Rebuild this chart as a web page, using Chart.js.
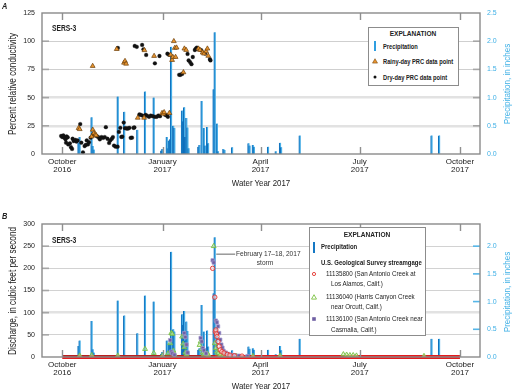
<!DOCTYPE html>
<html><head><meta charset="utf-8">
<script src="https://cdn.jsdelivr.net/npm/chart.js@4"></script>
<style>
html,body{margin:0;padding:0;background:#fff}
body{width:513px;height:392px;position:relative;overflow:hidden}
canvas{position:absolute;left:0}
.t{position:absolute;white-space:nowrap;font-family:'Liberation Sans',Arial,sans-serif;color:#222;line-height:1}
.c{transform:translate(-50%,-50%) scaleX(0.82)}
.l{transform:translateY(-50%) scaleX(0.82);transform-origin:0 50%}
.v{transform:translate(-50%,-50%) rotate(-90deg) scaleX(0.82)}
.b{font-weight:bold}
.box{position:absolute;border:1px solid #8c8c8c;background:#fff;box-sizing:border-box}
.mk{position:absolute;transform:translate(-50%,-50%)}
</style></head>
<body>
<canvas id="ca" width="513" height="192" style="top:0"></canvas>
<canvas id="cb" width="513" height="200" style="top:192px"></canvas>

<div class="t l b" style="left:2px;top:6px;font-size:9px;font-style:italic">A</div>
<div class="t l b" style="left:2px;top:215.7px;font-size:9px;font-style:italic">B</div>

<div class="t v" style="left:12.7px;top:83.7px;font-size:10px">Percent relative conductivity</div>
<div class="t v" style="left:506.5px;top:84px;font-size:9.8px;color:#3fb0e6">Precipitation, in inches</div>
<div class="t c" style="left:261px;top:182.7px;font-size:9.6px">Water Year 2017</div>
<div class="t l b" style="left:52.3px;top:29px;font-size:8.2px">SERS-3</div>

<div class="t v" style="left:12.7px;top:290.5px;font-size:10px">Discharge, in cubic feet per second</div>
<div class="t v" style="left:506.5px;top:291.7px;font-size:9.8px;color:#3fb0e6">Precipitation, in inches</div>
<div class="t c" style="left:261px;top:386px;font-size:9.6px">Water Year 2017</div>
<div class="t l b" style="left:52.3px;top:240.7px;font-size:8.2px">SERS-3</div>

<div class="t l" style="left:235.5px;top:254.3px;font-size:8px;color:#333">February 17–18, 2017</div>
<div class="t c" style="left:265px;top:262.7px;font-size:8px;color:#333">storm</div>

<!-- Legend A -->
<div class="box" style="left:368px;top:27px;width:91px;height:59px"></div>
<div class="t c b" style="left:413px;top:33.5px;font-size:8px">EXPLANATION</div>
<div style="position:absolute;left:374px;top:41px;width:2px;height:10px;background:#2f9ee0"></div>
<div class="t l b" style="left:383px;top:46px;font-size:7px">Precipitation</div>
<svg class="mk" style="left:374.7px;top:61.3px" width="7" height="7"><polygon points="3.5,1.2 6,5.6 1,5.6" fill="#e8942e" stroke="#7a4a10" stroke-width="0.6"/></svg>
<div class="t l b" style="left:383px;top:61.3px;font-size:7px">Rainy-day PRC data point</div>
<svg class="mk" style="left:374.7px;top:77px" width="5" height="5"><circle cx="2.5" cy="2.5" r="1.5" fill="#111"/></svg>
<div class="t l b" style="left:383px;top:77px;font-size:7px">Dry-day PRC data point</div>

<!-- Legend B -->
<div class="box" style="left:308.7px;top:226.7px;width:117.5px;height:109.5px"></div>
<div class="t c b" style="left:367.3px;top:235px;font-size:8px">EXPLANATION</div>
<div style="position:absolute;left:313px;top:241.5px;width:2px;height:11px;background:#1578c4"></div>
<div class="t l b" style="left:321px;top:247.3px;font-size:7.3px">Precipitation</div>
<div class="t l b" style="left:321px;top:262.7px;font-size:7.3px">U.S. Geological Survey streamgage</div>
<svg class="mk" style="left:314.3px;top:274px" width="6" height="6"><circle cx="3" cy="3" r="1.6" fill="none" stroke="#e3342f" stroke-width="0.9"/></svg>
<div class="t l" style="left:326px;top:274px;font-size:7.6px">11135800 (San Antonio Creek at</div>
<div class="t l" style="left:330.7px;top:284px;font-size:7.6px">Los Alamos, Calif.)</div>
<svg class="mk" style="left:314.3px;top:296.7px" width="7" height="7"><polygon points="3.5,1.2 6,5.6 1,5.6" fill="none" stroke="#7cc242" stroke-width="0.9"/></svg>
<div class="t l" style="left:326px;top:296.7px;font-size:7.6px">11136040 (Harris Canyon Creek</div>
<div class="t l" style="left:330.7px;top:306.7px;font-size:7.6px">near Orcutt, Calif.)</div>
<svg class="mk" style="left:314.3px;top:319.3px" width="6" height="6"><rect x="1.2" y="1.2" width="3.6" height="3.6" fill="#6f5fa3"/></svg>
<div class="t l" style="left:326px;top:319.3px;font-size:7.6px">11136100 (San Antonio Creek near</div>
<div class="t l" style="left:330.7px;top:330px;font-size:7.6px">Casmalia, Calif.)</div>

<script>
// ---------- DATA (x = day of water year; 0 = October 1, 2016) ----------
const monthDays = [0, 92, 182, 273, 365];
const monthLabels = [["October","2016"],["January","2017"],["April","2017"],["July","2017"],["October","2017"]];

const precipDays = [15,16,27,28,29,51,57,69,76,84,91,92,96,97,98,99,100,102,103,110,111,112,113,114,115,116,125,126,128,130,131,133,134,139,140,142,143,148,149,156,171,172,175,176,189,196,200,201,218,339,346];
const precipIn   = [0.20,0.30,0.65,0.14,0.08,1.02,0.75,0.43,1.11,1.00,0.06,0.09,0.30,0.10,0.24,0.26,1.90,0.50,0.46,0.77,0.58,0.83,0.30,0.64,0.47,0.10,0.13,0.16,0.94,0.46,0.15,0.48,0.19,1.15,2.16,0.54,0.05,0.09,0.07,0.12,0.19,0.15,0.16,0.13,0.13,0.05,0.20,0.12,0.33,0.33,0.33];

const dryDays = [-1,0,1,2,3,4,5,3.5,5.5,7,8,9,9.5,10.5,12,13,14,16.5,17.5,19,20.5,21.5,22.5,23.5,24.5,26,28.5,29.5,31.5,33,34.5,36,37.5,39,40,41.5,43,44,45.5,46.5,47.5,49,50.8,52,53.3,54.2,55.1,56.4,57.6,59.1,60.4,61.6,62.8,64,65.3,66.2,
  51,66.5,68.4,73.3,74.5,77,85,89.2,96.5,98,107.3,108.5,110,115,116,117.3,118.6,119.8,121.7,122.6,123.5,124.5,127.5,131,135.5,136,
  70.8,72,73.6,76.6,78,79.7,81.2,83,84.9,86.7,88.2,89.7,94.4,95.9,97];
const dryPRC  = [16,15,16.5,14.5,13,15.5,14.8,10,8.5,9.5,6,4.5,13.5,11.5,12.5,11,12,26.5,10,1.5,7,8,12,8.5,10.5,14.5,17.5,17,16,15,13,15,14.3,15,23.8,13.5,9.8,12,13.5,15,7.5,6.5,6.5,19.6,23.2,15.1,15.4,27.9,22.9,22.6,22.6,23.2,14.3,14.5,23.2,23.5,
  94,95.8,95,96.7,92.8,87.8,80.4,86.9,88.9,88,70.2,70.2,71,88.7,83,81.5,79.6,86,92.2,93.4,94.3,93.5,92,89,84,83,
  35,34.7,34.1,34.7,33.8,33,34.1,33.5,33,33,34.1,33.5,34.7,34.1,33];

const rainyDays = [15,16,27.9,27,28,29,30.5,31,50,56.7,57.6,58.6,69.3,75.1,75.4,84.3,91.6,92.8,93.5,98.3,99.5,100.8,101.5,102.4,103.3,104.9,104,111.2,112.1,113.7,125,126.5,128.9,130.1,132,133.2,134];
const rainyPRC  = [23,22,78,15.5,21.5,18.5,17.5,16.5,93,80.9,82.4,80,32.1,32.1,92,86.9,36.3,35.7,37,36.3,88,83.3,86,100,94,94.3,86,72.4,93.4,92.2,93.4,92.2,89.9,89,91,93.4,87];

const losAlamosDays = [138,140,140.5,141,141.5,142,143,144,145,146.5,148.5,151.5,154,158,165];
const losAlamosCfs  = [200,135,57,61,52,46,35,24,16,12,9,6,4,3,2];
const losAlamosZeroDays = [0,365];
const losAlamosZeroCfs  = [0,0];

const harrisDays = [16,27,51,76,84,92,97,99,100,101,102,103,110,111,112,113,114,126,127,128,129,130,133,134,139,140,141,142,143,145,148,152,156,160,175,200,258,261,264,267,270,332];
const harrisCfs  = [3,4,3,18,9,3,8,31,54,52,14,6,46,30,22,10,6,27,35,18,10,6,8,5,250,31,20,12,8,5,4,3,2,2,2,3,6,5,4,4,3,2];

const casmaliaDays = [99,100,101,103,112,113,114,115,127,128,129,130,132,138,139,141,142,143,144,145,146,147,148,150,152,155,158,162,170];
const casmaliaCfs  = [38,12,8,5,54,45,28,10,43,35,20,15,8,218,213,82,78,69,54,39,28,21,14,10,7,5,4,3,2];
const casmaliaLowDays = [0,140];
const casmaliaLowCfs  = [2,2];

const annotation = {fromDay:141.3, toDay:158.7, cfs:232};

// ---------- helpers ----------
const FONT = "'Liberation Sans',Arial,sans-serif";
const BLUE_T = '#3fb0e6';
const pts = (xs, ys) => xs.map((x,i)=>({x:x, y:ys[i]}));

function framePlugin(rightTickColor, leftTicks, rightTicks, leader) {
  return {
    id: 'frame',
    afterDatasetsDraw(chart) {
      const {ctx, chartArea:a, scales} = chart;
      ctx.save();
      ctx.strokeStyle = '#8f8f8f'; ctx.lineWidth = 1.4;
      monthDays.forEach(d => {
        const x = Math.round(scales.x.getPixelForValue(d)) + 0.5;
        ctx.beginPath(); ctx.moveTo(x, a.top); ctx.lineTo(x, a.top + 7);
        ctx.moveTo(x, a.bottom); ctx.lineTo(x, a.bottom - 7); ctx.stroke();
      });
      ctx.strokeStyle = '#a6a6a6'; ctx.lineWidth = 1.6;
      leftTicks.forEach(v => {
        const y = scales.y.getPixelForValue(v);
        ctx.beginPath(); ctx.moveTo(a.left, y); ctx.lineTo(a.left + 7, y); ctx.stroke();
      });
      ctx.strokeStyle = rightTickColor; ctx.lineWidth = 1.6;
      rightTicks.forEach(v => {
        const y = scales.y2.getPixelForValue(v);
        ctx.beginPath(); ctx.moveTo(a.right - 7, y); ctx.lineTo(a.right, y); ctx.stroke();
      });
      ctx.strokeStyle = '#8a8a8a'; ctx.lineWidth = 1.4;
      ctx.strokeRect(a.left, a.top, a.right - a.left, a.bottom - a.top);
      if (leader) {
        ctx.strokeStyle = '#555'; ctx.lineWidth = 0.9;
        const y = scales.y.getPixelForValue(leader.cfs);
        ctx.beginPath();
        ctx.moveTo(scales.x.getPixelForValue(leader.fromDay), y);
        ctx.lineTo(scales.x.getPixelForValue(leader.toDay), y);
        ctx.stroke();
      }
      ctx.restore();
    }
  };
}

function xScale(height) {
  return {
    type:'linear', min:-18.6, max:383.4, offset:false,
    afterBuildTicks: s => { s.ticks = monthDays.map(v => ({value:v})); },
    ticks:{ callback: v => monthLabels[monthDays.indexOf(v)], font:{family:FONT, size:8, lineHeight:1.1}, color:'#222', padding:3, maxRotation:0, autoSkip:false },
    grid:{display:false, drawTicks:false}, border:{display:false},
    afterFit: s => { s.height = height; }
  };
}

const barDS = () => ({
  type:'bar', data: pts(precipDays, precipIn), yAxisID:'y2',
  barThickness:2, backgroundColor:'#45ade6', borderColor:'#0b6cba',
  borderWidth:{left:1, right:0, top:0, bottom:0}, borderSkipped:false, order:10
});

// ---------- Chart A ----------
new Chart(document.getElementById('ca'), {
  type:'bar',
  data:{ datasets:[
    barDS(),
    {type:'scatter', data: pts(dryDays, dryPRC), yAxisID:'y', pointStyle:'circle', pointRadius:1.9,
     backgroundColor:'#111', borderColor:'#111', borderWidth:0.3, order:2},
    {type:'scatter', data: pts(rainyDays, rainyPRC), yAxisID:'y', pointStyle:'triangle', pointRadius:2.8,
     backgroundColor:'#e8942e', borderColor:'#6b3f0c', borderWidth:0.7, order:1}
  ]},
  options:{
    animation:false, responsive:false, maintainAspectRatio:false,
    layout:{padding:{top:13, left:0, right:0, bottom:0}},
    plugins:{legend:{display:false}, tooltip:{enabled:false}},
    scales:{
      x: xScale(38),
      y:{ position:'left', min:0, max:125,
          ticks:{stepSize:25, font:{family:FONT, size:7}, color:'#222', padding:7},
          grid:{ drawTicks:false,
                 color: c => (c.tick.value===25||c.tick.value===50) ? '#e2e2e2' : '#cfcfcf',
                 lineWidth: c => (c.tick.value===0||c.tick.value===125) ? 0 : ((c.tick.value===25||c.tick.value===50) ? 2.6 : 1.1) },
          border:{display:false}, afterFit: s => { s.width = 42; } },
      y2:{ position:'right', min:0, max:2.5,
          ticks:{stepSize:0.5, callback: v => v.toFixed(1), font:{family:FONT, size:7}, color:BLUE_T, padding:7},
          grid:{display:false, drawTicks:false}, border:{display:false}, afterFit: s => { s.width = 33; } }
    }
  },
  plugins:[framePlugin('#a6a6a6', [25,50,75,100], [0.5,1,1.5,2], null)]
});

// ---------- Chart B ----------
new Chart(document.getElementById('cb'), {
  type:'bar',
  data:{ datasets:[
    barDS(),
    {type:'line', data: pts(losAlamosZeroDays, losAlamosZeroCfs), yAxisID:'y', borderColor:'#e41a1c', borderWidth:4,
     pointRadius:0, clip:false, order:5},
    {type:'line', data: pts(casmaliaLowDays, casmaliaLowCfs), yAxisID:'y', borderColor:'#7a2a22', borderWidth:1,
     pointRadius:0, clip:false, order:4},
    {type:'scatter', data: pts(harrisDays, harrisCfs), yAxisID:'y', pointStyle:'triangle', pointRadius:2.8,
     backgroundColor:'rgba(200,235,160,0.55)', borderColor:'#78c043', borderWidth:0.9, order:3},
    {type:'scatter', data: pts(casmaliaDays, casmaliaCfs), yAxisID:'y', pointStyle:'rect', pointRadius:2.4,
     backgroundColor:'#6f5fa3', borderColor:'#a89cd0', borderWidth:0.7, order:2},
    {type:'scatter', data: pts(losAlamosDays, losAlamosCfs), yAxisID:'y', pointStyle:'circle', pointRadius:2.2,
     backgroundColor:'rgba(255,215,215,0.6)', borderColor:'#e3342f', borderWidth:0.9, order:1}
  ]},
  options:{
    animation:false, responsive:false, maintainAspectRatio:false,
    layout:{padding:{top:32, left:0, right:0, bottom:0}},
    plugins:{legend:{display:false}, tooltip:{enabled:false}},
    scales:{
      x: xScale(35),
      y:{ position:'left', min:0, max:300,
          ticks:{stepSize:50, font:{family:FONT, size:7}, color:'#222', padding:7},
          grid:{ drawTicks:false,
                 color: c => c.tick.value===100 ? '#e2e2e2' : '#d2d2d2',
                 lineWidth: c => (c.tick.value===0||c.tick.value===300) ? 0 : (c.tick.value===100 ? 2.6 : 1.1) },
          border:{display:false}, afterFit: s => { s.width = 42; } },
      y2:{ position:'right', min:0, max:2.4,
          afterBuildTicks: s => { s.ticks = [0,0.5,1,1.5,2].map(v => ({value:v})); },
          ticks:{callback: v => v.toFixed(1), font:{family:FONT, size:7}, color:BLUE_T, padding:7},
          grid:{display:false, drawTicks:false}, border:{display:false}, afterFit: s => { s.width = 33; } }
    }
  },
  plugins:[framePlugin('#56b6e8', [50,100,150,200,250], [0.5,1,1.5,2], annotation)]
});
</script>
</body></html>
